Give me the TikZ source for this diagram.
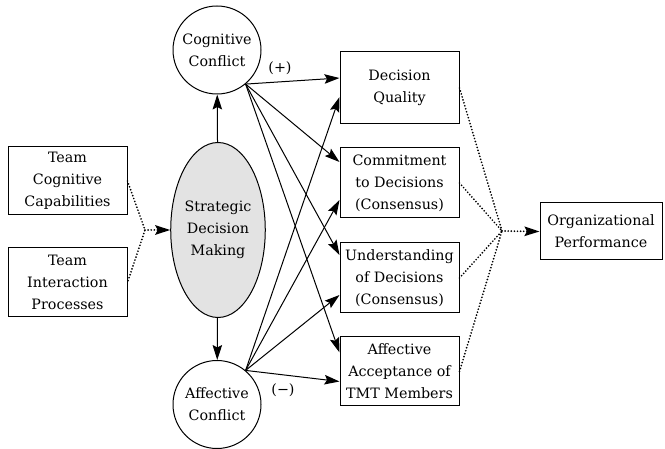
\documentclass[tikz,border=0pt]{standalone}
\usepackage{fontspec}
\setmainfont{DejaVu Serif}
\usetikzlibrary{positioning,shapes.geometric,arrows.meta}

\begin{document}
\begin{tikzpicture}[%
    x=1pt,
    y=-1pt,
    >={Stealth[length=15pt,width=9.5pt,inset=2.5pt]},
    line width=1pt,
    font=\fontsize{14.3}{22}\selectfont,
    factor/.style={%
      rectangle,
      draw,
      align=center,
      minimum width=119pt,
      minimum height=70pt,
      inner sep=2pt
    },
    conflict/.style={%
      circle,
      draw,
      align=center,
      minimum size=88pt,
      inner sep=0pt
    },
    dots/.style={%
      line width=1.9pt,
      dash pattern=on 0pt off 3.1pt,
      line cap=round
    }
  ]
    \useasboundingbox (0,0) rectangle (665,449);

    % inputs
    \node[factor, minimum height=68pt] (tcc) at (67.5,181)   {Team\\Cognitive\\Capabilities};
    \node[factor, minimum height=69pt] (tip) at (67.5,282.5) {Team\\Interaction\\Processes};
    \coordinate (lj) at (145,230);

    % process
    \node[ellipse, draw, fill=gray!22, align=center, minimum width=88pt,
          minimum height=175pt, inner sep=0pt] (sdm) at (218,230) {Strategic\\Decision\\Making};
    \node[conflict] (cc) at (217,50)  {Cognitive\\Conflict};
    \node[conflict] (ac) at (217,404.5) {Affective\\Conflict};

    % outcomes
    \node[factor, minimum height=72pt] (dq) at (399.5,88) {Decision\\Quality};
    \node[factor] (cd) at (399.5,183)   {Commitment\\to Decisions\\(Consensus)};
    \node[factor] (ud) at (399.5,278)   {Understanding\\of Decisions\\(Consensus)};
    \node[factor, minimum height=69pt] (aa) at (399.5,371.5) {Affective\\Acceptance of\\TMT Members};
    \coordinate (rj) at (502,231);

    \node[factor, minimum width=122pt, minimum height=57pt] (op) at (601,231.5) {Organizational\\Performance};

    \node (plus)  at (280,68)  {(+)};
    \node (minus) at (283,390) {(−)};

    \path[->] (sdm) edge (cc)
              (sdm) edge (ac);

    \path[->] (cc.-50) edge ([yshift=10pt]dq.west)
                       edge ([yshift=21pt]cd.west)
                       edge ([yshift=23pt]ud.west)
                       edge ([yshift=19pt]aa.west);
    \path[->] (ac.50)  edge ([yshift=-9pt]dq.west)
                       edge ([yshift=-17pt]cd.west)
                       edge ([yshift=-17pt]ud.west)
                       edge ([yshift=-10pt]aa.west);

    \draw[dots] (tcc.east) -- (lj) -- (tip.east);
    \draw[dots,->] (lj) -- (sdm.west);

    \draw[dots] (dq.east) -- (rj)
                (cd.east) -- (rj)
                (ud.east) -- (rj)
                (aa.east) -- (rj);
    \draw[dots,->] (rj) -- (op.west);
  \end{tikzpicture}
\end{document}
